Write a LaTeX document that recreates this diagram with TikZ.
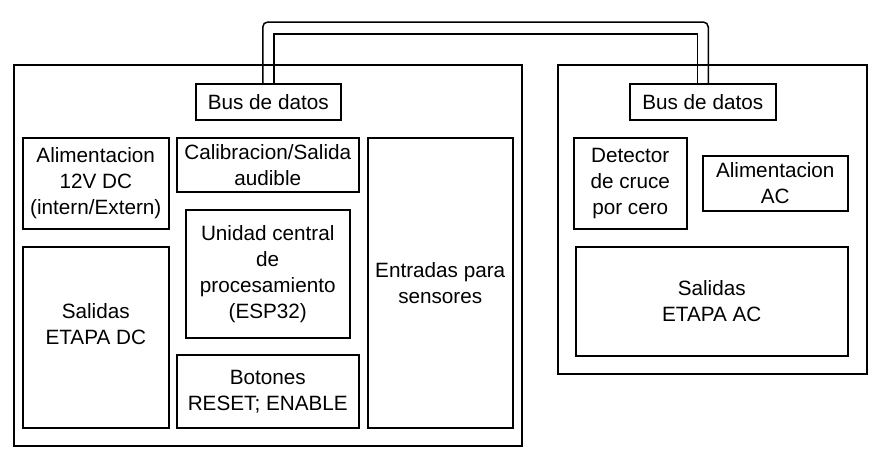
\documentclass[tikz,border=0pt]{standalone}
\usepackage{fontspec}
\setmainfont{Liberation Sans}
\usetikzlibrary{calc}

\begin{document}
\begin{tikzpicture}[
x=1pt, y=-1pt,
Frame/.style={draw, line width=1.5pt, anchor=north west, inner sep=0pt},
Block/.style={draw, line width=1.5pt, anchor=north west, inner sep=0pt, align=center, font=\fontsize{20.7}{26}\selectfont},
Wire/.style={line width=1.5pt}
]
\useasboundingbox (0,0) rectangle (886,464);

% placas
\node[Frame, minimum width=508, minimum height=381] (placaDC) at (13,64) {};
\node[Frame, minimum width=309, minimum height=309] (placaAC) at (557,64) {};

% placa DC
\node[Block, minimum width=145, minimum height=36] (busDC) at (195,83) {Bus de datos};
\node[Block, minimum width=146, minimum height=91] (alimDC) at (22,137) {Alimentacion\\12V DC\\(intern/Extern)};
\node[Block, minimum width=182, minimum height=54] (calib) at (176,137) {Calibracion/Salida\\audible};
\node[Block, minimum width=164, minimum height=128] (cpu) at (185,209) {Unidad central\\de\\procesamiento\\(ESP32)};
\node[Block, minimum width=146, minimum height=181] (salDC) at (22,246) {Salidas\\ETAPA DC\\~};
\node[Block, minimum width=182, minimum height=73] (botones) at (176,354) {Botones\\RESET; ENABLE};
\node[Block, minimum width=145, minimum height=290] (entradas) at (367,137) {Entradas para\\sensores};

% placa AC
\node[Block, minimum width=146, minimum height=36] (busAC) at (629,83) {Bus de datos};
\node[Block, minimum width=113, minimum height=91] (detector) at (573,137) {Detector\\de cruce\\por cero};
\node[Block, minimum width=145, minimum height=55] (alimAC) at (702,155) {Alimentacion\\AC};
\node[Block, minimum width=272, minimum height=109] (salAC) at (575,246) {Salidas\\ETAPA AC};

% bus entre placas
\coordinate (wtop) at (0,22);
\coordinate (wbot) at (0,34);
\coordinate (dcA) at ([xshift=-5.5pt]busDC.north);
\coordinate (dcB) at ([xshift=5.5pt]busDC.north);
\coordinate (acA) at ([xshift=-5.5pt]busAC.north);
\coordinate (acB) at ([xshift=5.5pt]busAC.north);
\draw[Wire, rounded corners=5pt] (dcA) -- (dcA |- wtop) -- (acB |- wtop) -- (acB);
\draw[Wire] (dcB) -- (dcB |- wbot) -- (acA |- wbot) -- (acA);

\end{tikzpicture}
\end{document}
